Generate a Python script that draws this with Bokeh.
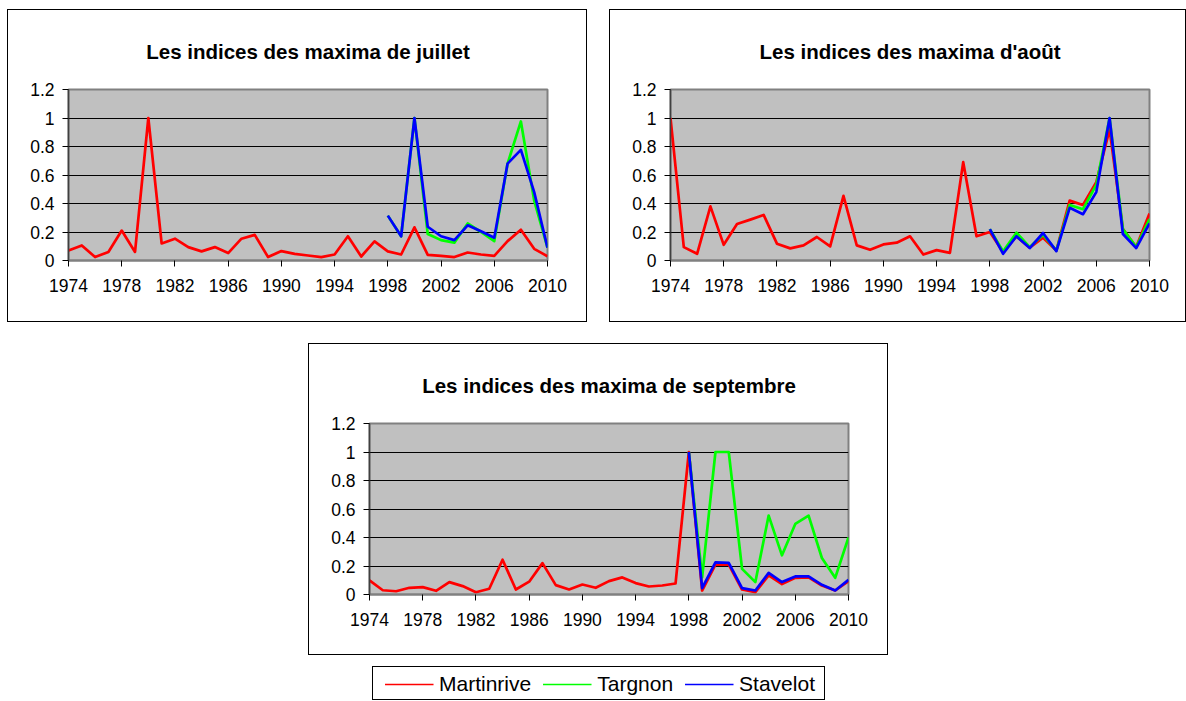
from bokeh.plotting import figure
from bokeh.models import (Range1d, FixedTicker, CustomJSTickFormatter, Legend,
                          LegendItem, Spacer)
from bokeh.layouts import row, column
from bokeh.embed import file_html
from bokeh.resources import INLINE

FONT = "Liberation Sans"

# ---------------- data ----------------
years_all = list(range(1974, 2011))
years_sub = list(range(1998, 2011))
x_ticks = [1974, 1978, 1982, 1986, 1990, 1994, 1998, 2002, 2006, 2010]
y_ticks = [0, 0.2, 0.4, 0.6, 0.8, 1.0, 1.2]
series_names = ["Martinrive", "Targnon", "Stavelot"]

jul_martinrive = [0.07, 0.106, 0.024, 0.06, 0.21, 0.06, 1.0, 0.12, 0.153, 0.094,
                  0.064, 0.094, 0.052, 0.153, 0.18, 0.024, 0.066, 0.047, 0.035, 0.024,
                  0.042, 0.17, 0.028, 0.134, 0.064, 0.042, 0.233, 0.04, 0.033, 0.024,
                  0.056, 0.042, 0.033, 0.136, 0.216, 0.082, 0.03]
jul_targnon = [0.315, 0.17, 1.0, 0.186, 0.143, 0.125, 0.26, 0.2, 0.136, 0.68, 0.976, 0.42, 0.09]
jul_stavelot = [0.315, 0.17, 1.0, 0.237, 0.17, 0.143, 0.247, 0.205, 0.16, 0.68, 0.776, 0.48, 0.09]

aug_martinrive = [1.0, 0.094, 0.047, 0.38, 0.11, 0.256, 0.287, 0.32, 0.118, 0.085,
                  0.106, 0.165, 0.099, 0.454, 0.106, 0.075, 0.113, 0.125, 0.17, 0.042,
                  0.073, 0.054, 0.69, 0.17, 0.2, 0.06, 0.17, 0.09, 0.16, 0.07,
                  0.42, 0.39, 0.55, 0.92, 0.22, 0.094, 0.33]
aug_targnon = [0.22, 0.064, 0.195, 0.094, 0.18, 0.07, 0.39, 0.36, 0.53, 1.0, 0.22, 0.094, 0.29]
aug_stavelot = [0.22, 0.047, 0.17, 0.087, 0.193, 0.066, 0.37, 0.325, 0.48, 1.0, 0.186, 0.087, 0.26]

sep_martinrive = [0.099, 0.03, 0.023, 0.047, 0.052, 0.026, 0.087, 0.059, 0.016, 0.04,
                  0.244, 0.035, 0.09, 0.22, 0.066, 0.035, 0.07, 0.047, 0.094, 0.12,
                  0.08, 0.056, 0.063, 0.077, 1.0, 0.028, 0.21, 0.21, 0.035, 0.016,
                  0.134, 0.073, 0.117, 0.12, 0.063, 0.028, 0.094]
sep_targnon = [1.0, 0.12, 1.0, 1.0, 0.18, 0.087, 0.554, 0.275, 0.495, 0.554, 0.256, 0.117, 0.4]
sep_stavelot = [1.0, 0.045, 0.225, 0.222, 0.045, 0.028, 0.152, 0.087, 0.127, 0.127, 0.068, 0.028, 0.103]

COLORS = ["#FF0000", "#00FF00", "#0000FF"]


def make_chart(title, w, h, ml, mr, mt, mb, mart, targ, stav):
    p = figure(width=w, height=h, title=title,
               x_range=Range1d(1974, 2010), y_range=Range1d(0, 1.2),
               output_backend="svg", toolbar_location=None,
               min_border_left=ml, min_border_right=mr,
               min_border_top=mt, min_border_bottom=mb,
               background_fill_color="#C0C0C0", border_fill_color="white",
               outline_line_color="#808080", outline_line_width=2,
               styles={"border": "1px solid black"})
    p.title.align = "center"
    p.title.text_font = FONT
    p.title.text_font_size = "20.5px"
    p.title.text_font_style = "bold"
    p.title.text_color = "black"
    p.title.standoff = 54

    p.line(years_all, mart, color=COLORS[0], line_width=2.7, line_join="round")
    p.line(years_sub, targ, color=COLORS[1], line_width=2.7, line_join="round")
    p.line(years_sub, stav, color=COLORS[2], line_width=2.7, line_join="round")

    p.xaxis.ticker = FixedTicker(ticks=x_ticks)
    p.xaxis.formatter = CustomJSTickFormatter(code="return tick.toFixed(0);")
    p.yaxis.ticker = FixedTicker(ticks=y_ticks)
    p.yaxis.formatter = CustomJSTickFormatter(
        code="return (Math.round(tick*10)/10).toString();")
    for ax in (p.xaxis, p.yaxis):
        ax.minor_tick_line_color = None
        ax.major_tick_in = 0
        ax.major_tick_out = 6
        ax.major_tick_line_color = "black"
        ax.major_label_text_font = FONT
        ax.major_label_text_font_size = "17.5px"
        ax.major_label_text_color = "black"
    p.xaxis.axis_line_color = "#808080"
    p.xaxis.axis_line_width = 2
    p.yaxis.axis_line_color = "#404040"
    p.yaxis.axis_line_width = 1.5
    p.xaxis.major_label_standoff = 12
    p.yaxis.major_label_standoff = 8

    p.xgrid.visible = False
    p.ygrid.grid_line_color = "black"
    p.ygrid.grid_line_width = 1
    return p


f1 = make_chart("Les indices des maxima de juillet", 580, 313, 60, 41, 78, 63,
                jul_martinrive, jul_targnon, jul_stavelot)
f2 = make_chart("Les indices des maxima d'août", 577, 313, 60, 38, 78, 63,
                aug_martinrive, aug_targnon, aug_stavelot)
f3 = make_chart("Les indices des maxima de septembre", 580, 312, 60, 41, 78, 62,
                sep_martinrive, sep_targnon, sep_stavelot)

# legend box
lg = figure(width=453, height=34, x_range=Range1d(0, 1), y_range=Range1d(0, 1),
            output_backend="svg", toolbar_location=None,
            x_axis_location=None, y_axis_location=None,
            min_border=0, outline_line_color=None,
            styles={"border": "1px solid black"})
lg.grid.visible = False
items = []
for name, col in zip(series_names, COLORS):
    r = lg.line(x=[-10, -9], y=[-10, -10], color=col, line_width=1.5)
    items.append(LegendItem(label=name, renderers=[r]))
legend = Legend(items=items, orientation="horizontal", location="center",
                border_line_color=None, background_fill_alpha=0,
                padding=0, margin=0, spacing=11, glyph_width=49, glyph_height=20,
                label_standoff=6, label_height=20,
                label_text_font=FONT, label_text_font_size="21px",
                label_text_color="black")
lg.add_layout(legend, "center")

layout = column(
    Spacer(width=10, height=9),
    row(Spacer(width=7, height=313), f1, Spacer(width=22, height=313), f2),
    Spacer(width=10, height=21),
    row(Spacer(width=308, height=312), f3),
    Spacer(width=10, height=11),
    row(Spacer(width=372, height=34), lg),
)

open("out.html", "w").write(file_html(layout, INLINE))
